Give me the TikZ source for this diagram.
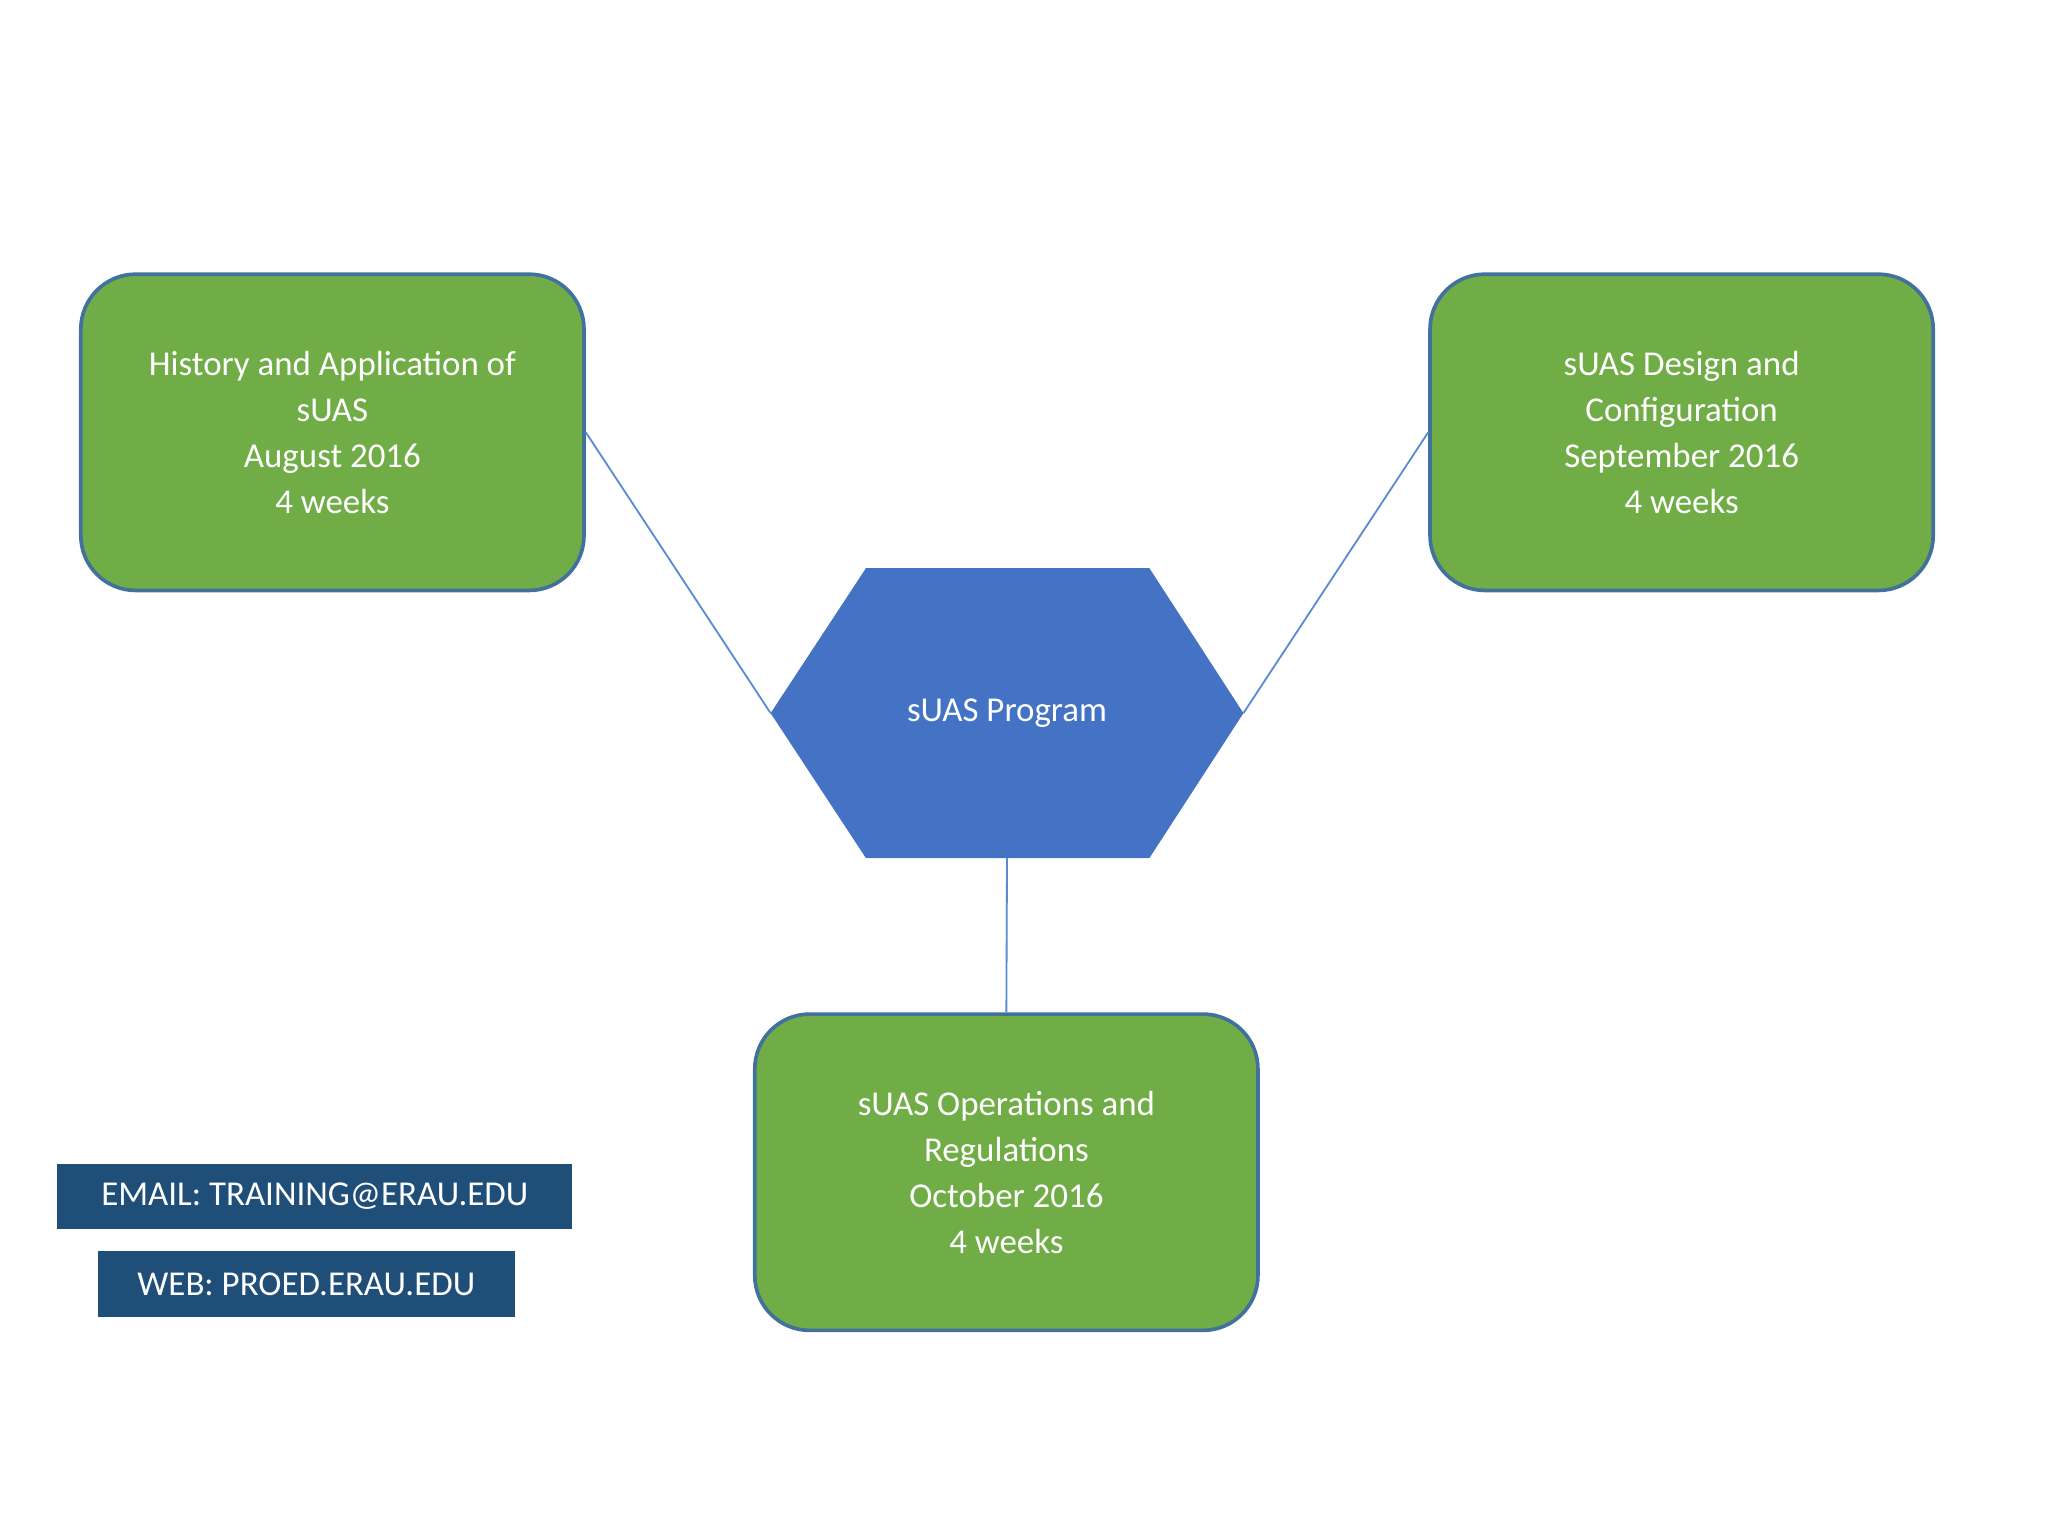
\documentclass[tikz,border=0pt]{standalone}
\usepackage{fontspec}
\setmainfont{Carlito}
\definecolor{gr}{HTML}{70AD47}
\definecolor{bd}{HTML}{41719C}
\definecolor{hx}{HTML}{4472C4}
\definecolor{nv}{HTML}{1F4E79}
\definecolor{ln}{HTML}{5B8BD0}
\begin{document}
\begin{tikzpicture}[x=0.01cm,y=-0.01cm,
  box/.style={draw=bd,line width=0.8pt,fill=gr,rounded corners=0.42cm,minimum width=3.85cm,minimum height=2.42cm,text=white,align=center,font=\fontsize{7.6pt}{10pt}\selectfont},
  tag/.style={fill=nv,text=white,inner sep=0pt,font=\fontsize{7.6pt}{10pt}\selectfont},
  con/.style={draw=ln,line width=0.4pt}]
\useasboundingbox (0,0) rectangle (1568,1176);
\node[box] (a) at (254.5,331) {History and Application of\\sUAS\\August 2016\\4 weeks};
\node[box] (b) at (1287.5,331) {sUAS Design and\\Configuration\\September 2016\\4 weeks};
\node[box] (c) at (770.5,897.5) {sUAS Operations and\\Regulations\\October 2016\\4 weeks};
\coordinate (hl) at (590,546);
\coordinate (hr) at (952,546);
\coordinate (hb) at (771,657);
\fill[hx] (663,435) -- (880,435) -- (hr) -- (880,657) -- (663,657) -- (hl) -- cycle;
\node[text=white,font=\fontsize{7.6pt}{10pt}\selectfont] (h) at (771,546) {sUAS Program};
\draw[con] (a.east) -- (hl);
\draw[con] (b.west) -- (hr);
\draw[con] (hb) -- (c.north);
\node[tag,minimum width=3.94cm,minimum height=0.5cm] (e) at (241,916) {EMAIL: TRAINING@ERAU.EDU};
\node[tag,minimum width=3.19cm,minimum height=0.5cm] (w) at (234.5,983) {WEB: PROED.ERAU.EDU};
\end{tikzpicture}
\end{document}
